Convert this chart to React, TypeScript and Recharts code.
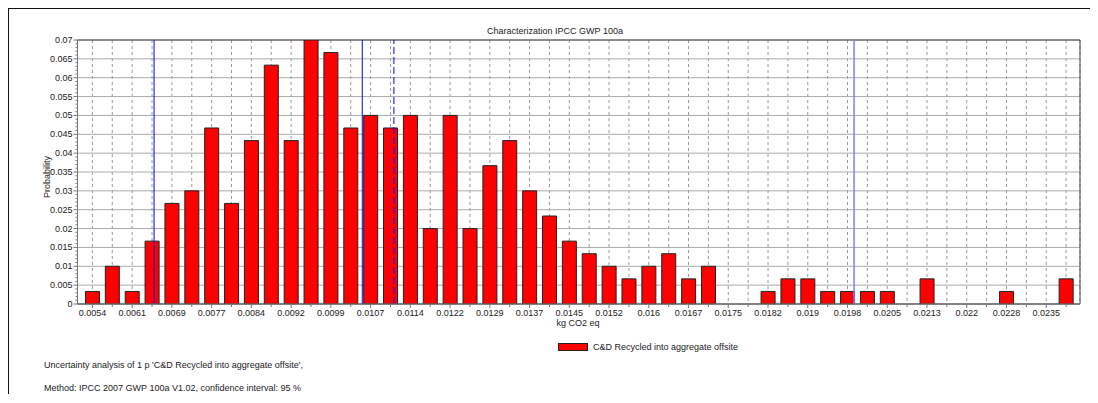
import React from 'react';
import {
  BarChart,
  Bar,
  XAxis,
  YAxis,
  CartesianGrid,
  ReferenceLine,
  ReferenceArea,
} from 'recharts';

const FONT = "'Liberation Sans', Arial, sans-serif";

// histogram bins (kg CO2 eq), first bin centre and bin width
const BIN_START = 0.0054;
const BIN_WIDTH = 0.000377;

// probability per bin, 300 runs
const PROBABILITY = [
  0.00333, 0.01, 0.00333, 0.01667, 0.02667, 0.03, 0.04667, 0.02667, 0.04333, 0.06333,
  0.04333, 0.07, 0.06667, 0.04667, 0.05, 0.04667, 0.05, 0.02, 0.05, 0.02,
  0.03667, 0.04333, 0.03, 0.02333, 0.01667, 0.01333, 0.01, 0.00667, 0.01, 0.01333,
  0.00667, 0.01, 0, 0, 0.00333, 0.00667, 0.00667, 0.00333, 0.00333, 0.00333,
  0.00333, 0, 0.00667, 0, 0, 0, 0.00333, 0, 0, 0.00667,
];

const X_TICK_LABELS = [
  '0.0054', '0.0061', '0.0069', '0.0077', '0.0084', '0.0092', '0.0099', '0.0107',
  '0.0114', '0.0122', '0.0129', '0.0137', '0.0145', '0.0152', '0.016', '0.0167',
  '0.0175', '0.0182', '0.019', '0.0198', '0.0205', '0.0213', '0.022', '0.0228', '0.0235',
];

const Y_TICKS = [0, 0.005, 0.01, 0.015, 0.02, 0.025, 0.03, 0.035, 0.04, 0.045, 0.05, 0.055, 0.06, 0.065, 0.07];
const Y_TICK_LABELS = ['0', '0.005', '0.01', '0.015', '0.02', '0.025', '0.03', '0.035', '0.04', '0.045', '0.05', '0.055', '0.06', '0.065', '0.07'];

// confidence interval lines
const LOWER_95 = 0.00657;
const MEDIAN = 0.01052;
const MEAN = 0.01112;
const UPPER_95 = 0.01985;

const data = PROBABILITY.map((p, i) => ({ x: BIN_START + i * BIN_WIDTH, p }));
const xTicks = data.map((d) => d.x);
const yMinorTicks = Array.from({ length: 71 }, (_, i) => i * 0.001);
const xDomain = [BIN_START - 0.75 * BIN_WIDTH, BIN_START + 49.7 * BIN_WIDTH];

const XTick = (props: any) => {
  const { x, y, index } = props;
  const major = index % 2 === 0;
  return (
    <g>
      <line x1={x} y1={y} x2={x} y2={y + (major ? 4 : 3)} stroke="#777" />
      {major && (
        <text x={x} y={y + 12} textAnchor="middle" fontSize={9} fill="#222" fontFamily={FONT}>
          {X_TICK_LABELS[index / 2]}
        </text>
      )}
    </g>
  );
};

const YTick = (props: any) => {
  const { x, y, index } = props;
  const major = index % 5 === 0;
  return (
    <g>
      <line x1={x - (major ? 4 : 2)} y1={y} x2={x} y2={y} stroke="#777" />
      {major && (
        <text x={x - 5} y={y + 3} textAnchor="end" fontSize={9} fill="#222" fontFamily={FONT}>
          {Y_TICK_LABELS[index / 5]}
        </text>
      )}
    </g>
  );
};

const text: React.CSSProperties = {
  position: 'absolute',
  fontFamily: FONT,
  fontSize: 9,
  lineHeight: '12px',
  color: '#222',
  whiteSpace: 'nowrap',
};

export default function App() {
  return (
    <div
      style={{
        position: 'relative',
        width: 1090,
        height: 385,
        margin: '-1px 0 0 -1px',
        borderTop: '2px solid #111',
        borderLeft: '2px solid #111',
      }}
    >
      <div style={{ position: 'absolute', left: -9, top: -9, width: 1098, height: 403 }}>
        <BarChart
          width={1098}
          height={403}
          data={data}
          margin={{ top: 40, right: 18, bottom: 79, left: 37.5 }}
        >
          <CartesianGrid horizontal={false} stroke="#999" strokeDasharray="3 3" />
          <CartesianGrid vertical={false} horizontalValues={Y_TICKS} stroke="#aaa" />
          <XAxis
            dataKey="x"
            type="number"
            domain={xDomain}
            ticks={xTicks}
            interval={0}
            height={20}
            tickSize={0}
            tickMargin={0}
            tickLine={false}
            tick={<XTick />}
            stroke="#777"
            allowDataOverflow
          />
          <YAxis
            domain={[0, 0.07]}
            ticks={yMinorTicks}
            interval={0}
            width={40}
            tickSize={0}
            tickMargin={0}
            tickLine={false}
            tick={<YTick />}
            stroke="#777"
            allowDataOverflow
          />
          <Bar
            dataKey="p"
            fill="#ff0000"
            stroke="#222"
            strokeWidth={1}
            barSize={14}
            isAnimationActive={false}
          />
          <ReferenceArea
            x1={xDomain[0]}
            x2={xDomain[1]}
            y1={0}
            y2={0.07}
            fill="none"
            stroke="#444"
            ifOverflow="visible"
          />
          <ReferenceLine x={LOWER_95} stroke="#0000ff" />
          <ReferenceLine x={MEDIAN} stroke="#0000ff" />
          <ReferenceLine x={MEAN} stroke="#0000ff" strokeDasharray="7 3" />
          <ReferenceLine x={UPPER_95} stroke="#7f7fff" strokeWidth={1.5} />
        </BarChart>

        <div style={{ ...text, left: 355, width: 400, top: 25, textAlign: 'center' }}>
          Characterization IPCC GWP 100a
        </div>
        <div style={{ ...text, left: 478, width: 200, top: 317, textAlign: 'center' }}>kg CO2 eq</div>
        <div
          style={{
            ...text,
            left: 7,
            width: 80,
            top: 171,
            textAlign: 'center',
            transform: 'rotate(-90deg)',
          }}
        >
          Probability
        </div>
        <div
          style={{
            position: 'absolute',
            left: 558,
            top: 343,
            width: 30,
            height: 8,
            boxSizing: 'border-box',
            background: '#ff0000',
            border: '1px solid #222',
          }}
        />
        <div style={{ ...text, left: 593, top: 341 }}>C&amp;D Recycled into aggregate offsite</div>
        <div style={{ ...text, left: 44, top: 359 }}>
          Uncertainty analysis of 1 p 'C&amp;D Recycled into aggregate offsite',
        </div>
        <div style={{ ...text, left: 44, top: 382 }}>
          Method: IPCC 2007 GWP 100a V1.02, confidence interval: 95 %
        </div>
      </div>
    </div>
  );
}
